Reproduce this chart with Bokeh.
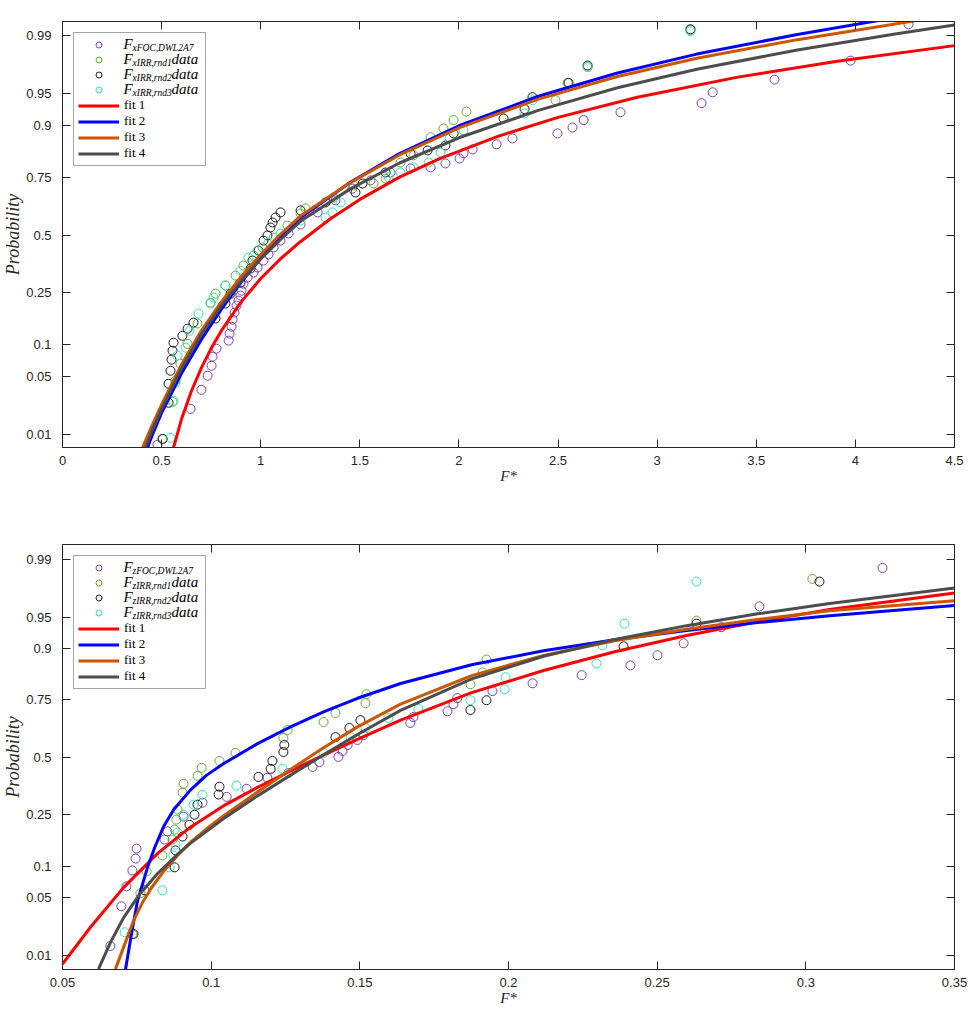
from statistics import NormalDist
from bokeh.plotting import figure
from bokeh.layouts import column
from bokeh.models import Range1d, FixedTicker, LinearAxis, Legend, LegendItem, Label
from bokeh.core.properties import value
from bokeh.embed import file_html
from bokeh.resources import INLINE

# ---------------- data ----------------
prob_ticks = [0.01, 0.05, 0.1, 0.25, 0.5, 0.75, 0.9, 0.95, 0.99]
prob_tick_labels = ["0.01", "0.05", "0.1", "0.25", "0.5", "0.75", "0.9", "0.95", "0.99"]

top_x_ticks = [0, 0.5, 1, 1.5, 2, 2.5, 3, 3.5, 4, 4.5]
top_x_tick_labels = ["0", "0.5", "1", "1.5", "2", "2.5", "3", "3.5", "4", "4.5"]
bot_x_ticks = [0.05, 0.1, 0.15, 0.2, 0.25, 0.3, 0.35]
bot_x_tick_labels = ["0.05", "0.1", "0.15", "0.2", "0.25", "0.3", "0.35"]

top_subscripts = ["xFOC,DWL2A7", "xIRR,rnd1", "xIRR,rnd2", "xIRR,rnd3"]
bot_subscripts = ["zFOC,DWL2A7", "zIRR,rnd1", "zIRR,rnd2", "zIRR,rnd3"]
tails = ["", "data", "data", "data"]
fit_names = ["fit 1", "fit 2", "fit 3", "fit 4"]

# top panel data (F*, probability)
top_foc_x = [0.479, 0.646, 0.701, 0.732, 0.752, 0.757, 0.777, 0.838, 0.843, 0.853, 0.858, 0.868,
             0.878, 0.888, 0.898, 0.903, 0.913, 0.933, 0.964, 0.984, 1.014, 1.039, 1.065, 1.100,
             1.140, 1.201, 1.287, 1.377, 1.463, 1.554, 1.655, 1.756, 1.857, 1.932, 2.003, 2.023,
             2.069, 2.190, 2.270, 2.497, 2.573, 2.629, 2.815, 3.224, 3.280, 3.592, 3.976, 4.268]
top_foc_p = [0.0072, 0.0213, 0.0355, 0.0504, 0.0636, 0.078, 0.0925, 0.109, 0.125, 0.1425, 0.162, 0.183,
             0.205, 0.222, 0.240, 0.258, 0.285, 0.310, 0.331, 0.352, 0.383, 0.410, 0.442, 0.474,
             0.507, 0.549, 0.604, 0.657, 0.706, 0.738, 0.767, 0.781, 0.785, 0.798, 0.814, 0.830,
             0.841, 0.855, 0.870, 0.882, 0.895, 0.910, 0.924, 0.938, 0.952, 0.965, 0.979, 0.993]

top_rnd1_x = [0.505, 0.555, 0.570, 0.595, 0.631, 0.681, 0.747, 0.772, 0.822, 0.873, 0.913, 0.964,
              1.009, 1.065, 1.135, 1.201, 1.226, 1.367, 1.468, 1.569, 1.630, 1.705, 1.771, 1.857,
              1.922, 1.973, 2.038, 2.487, 2.548, 2.649, 3.168]
top_rnd1_p = [0.0087, 0.0259, 0.0446, 0.0667, 0.102, 0.151, 0.215, 0.247, 0.278, 0.318, 0.361, 0.405,
              0.442, 0.488, 0.544, 0.599, 0.622, 0.669, 0.718, 0.726, 0.745, 0.801, 0.824, 0.873,
              0.893, 0.910, 0.925, 0.942, 0.962, 0.975, 0.9916]

top_rnd2_x = [0.505, 0.535, 0.535, 0.545, 0.550, 0.555, 0.560, 0.605, 0.631, 0.661, 0.772, 0.822,
              0.848, 0.898, 0.949, 0.959, 0.989, 1.014, 1.034, 1.049, 1.060, 1.075, 1.100, 1.201,
              1.327, 1.478, 1.514, 1.630, 1.756, 1.842, 1.932, 1.973, 2.225, 2.331, 2.371, 2.553,
              2.649, 3.168]
top_rnd2_p = [0.0087, 0.0252, 0.0414, 0.0567, 0.073, 0.0887, 0.1046, 0.120, 0.1374, 0.1534, 0.165, 0.212,
              0.247, 0.289, 0.348, 0.383, 0.428, 0.474, 0.498, 0.535, 0.558, 0.581, 0.604, 0.613,
              0.648, 0.690, 0.726, 0.767, 0.829, 0.838, 0.852, 0.882, 0.913, 0.929, 0.946, 0.962,
              0.976, 0.9918]

top_rnd3_x = [0.545, 0.560, 0.570, 0.580, 0.621, 0.641, 0.686, 0.747, 0.762, 0.822, 0.898, 0.938,
              0.984, 1.039, 1.100, 1.201, 1.327, 1.362, 1.403, 1.645, 1.705, 1.771, 1.847, 1.907,
              1.953, 2.023, 2.331, 2.371, 2.649, 3.168]
top_rnd3_p = [0.009, 0.0266, 0.0424, 0.0796, 0.0944, 0.132, 0.180, 0.212, 0.233, 0.278, 0.339, 0.396,
              0.428, 0.465, 0.507, 0.567, 0.581, 0.604, 0.648, 0.749, 0.767, 0.785, 0.801, 0.832,
              0.870, 0.889, 0.922, 0.942, 0.975, 0.9913]

top_fit1_x = [0.56, 0.60, 0.65, 0.70, 0.75, 0.80, 0.90, 1.00, 1.10, 1.20, 1.35, 1.50, 1.70, 1.90,
              2.20, 2.50, 2.90, 3.40, 3.90, 4.50]
top_fit1_p = [0.00657, 0.0158, 0.0342, 0.0603, 0.0931, 0.131, 0.217, 0.306, 0.391, 0.469, 0.574,
              0.661, 0.750, 0.813, 0.8756, 0.915, 0.946, 0.967, 0.9785, 0.9864]
top_fit2_x = [0.429, 0.45, 0.50, 0.60, 0.70, 0.80, 0.90, 1.00, 1.10, 1.20, 1.45, 1.70, 2.00,
              2.40, 2.80, 3.20, 3.70, 4.13]
top_fit2_p = [0.00657, 0.00939, 0.019, 0.0532, 0.1112, 0.192, 0.2895, 0.394, 0.494, 0.5793, 0.7299,
              0.8289, 0.8987, 0.9472, 0.9706, 0.98257, 0.99023, 0.99391]
top_fit3_x = [0.404, 0.45, 0.50, 0.60, 0.70, 0.80, 0.90, 1.00, 1.10, 1.20, 1.45, 1.70, 2.00,
              2.40, 2.80, 3.20, 3.70, 4.30]
top_fit3_p = [0.00657, 0.0128, 0.024, 0.0653, 0.132, 0.217, 0.312, 0.41, 0.5036, 0.5875, 0.7286,
              0.8247, 0.8941, 0.9435, 0.9677, 0.98033, 0.98856, 0.99375]
top_fit4_x = [0.419, 0.45, 0.50, 0.60, 0.70, 0.80, 0.90, 1.00, 1.10, 1.20, 1.45, 1.70, 2.00,
              2.40, 2.80, 3.20, 3.70, 4.20, 4.50]
top_fit4_p = [0.00657, 0.011, 0.0212, 0.0594, 0.123, 0.2033, 0.2946, 0.3897, 0.480, 0.5636, 0.7037,
              0.7995, 0.8716, 0.927, 0.9571, 0.97344, 0.98438, 0.99046, 0.99284]

# bottom panel data (F*, probability)
bot_foc_x = [0.0661, 0.0698, 0.0715, 0.0735, 0.0746, 0.0749, 0.0843, 0.0853, 0.0907, 0.0971, 0.1052,
             0.1119, 0.1189, 0.1260, 0.1341, 0.1364, 0.1428, 0.1442, 0.1459, 0.1492, 0.1512, 0.1670,
             0.1680, 0.1795, 0.1815, 0.1828, 0.1946, 0.2081, 0.2246, 0.2410, 0.2501, 0.2589, 0.2716,
             0.2844, 0.3258]
bot_foc_p = [0.0133, 0.040, 0.0646, 0.0918, 0.117, 0.1416, 0.1668, 0.192, 0.243, 0.297, 0.321,
             0.356, 0.405, 0.427, 0.455, 0.478, 0.502, 0.530, 0.558, 0.581, 0.603, 0.657,
             0.682, 0.706, 0.734, 0.757, 0.782, 0.808, 0.833, 0.860, 0.885, 0.910, 0.937,
             0.962, 0.987]

bot_rnd1_x = [0.0735, 0.0762, 0.0783, 0.0836, 0.0870, 0.0877, 0.0883, 0.0887, 0.0904, 0.0907, 0.0954,
              0.0968, 0.1028, 0.1082, 0.1243, 0.1257, 0.1378, 0.1418, 0.1519, 0.1522, 0.1872, 0.1913,
              0.1926, 0.2632, 0.3022]
bot_rnd1_p = [0.0189, 0.055, 0.090, 0.1245, 0.167, 0.198, 0.232, 0.270, 0.339, 0.378, 0.414,
              0.451, 0.483, 0.521, 0.590, 0.626, 0.661, 0.699, 0.738, 0.771, 0.805, 0.841,
              0.875, 0.946, 0.982]

bot_rnd2_x = [0.0739, 0.0776, 0.0877, 0.0880, 0.0904, 0.0927, 0.0944, 0.0954, 0.1025, 0.1028, 0.1159,
              0.1200, 0.1206, 0.1243, 0.1246, 0.1418, 0.1465, 0.1502, 0.1872, 0.1926, 0.2387, 0.2632,
              0.3046]
bot_rnd2_p = [0.0189, 0.059, 0.098, 0.137, 0.176, 0.214, 0.250, 0.289, 0.331, 0.365, 0.409,
              0.446, 0.483, 0.525, 0.558, 0.594, 0.635, 0.669, 0.711, 0.749, 0.904, 0.942,
              0.9806]

bot_rnd3_x = [0.0709, 0.0836, 0.0860, 0.0873, 0.0880, 0.0887, 0.0907, 0.0941, 0.0971, 0.1085, 0.1240,
              0.1378, 0.1469, 0.1519, 0.1596, 0.1697, 0.1872, 0.1987, 0.1990, 0.2296, 0.2316, 0.2390,
              0.2632]
bot_rnd3_p = [0.0199, 0.059, 0.098, 0.1245, 0.1525, 0.188, 0.250, 0.289, 0.330, 0.369, 0.446,
              0.521, 0.594, 0.635, 0.678, 0.715, 0.749, 0.788, 0.827, 0.865, 0.906, 0.942,
              0.9806]

bot_fit1_x = [0.0500, 0.0594, 0.0705, 0.0820, 0.0930, 0.1041, 0.1156, 0.1267, 0.1378, 0.1492, 0.1637,
              0.1876, 0.2118, 0.2357, 0.2599, 0.2838, 0.3080, 0.3500]
bot_fit1_p = [0.00755, 0.0229, 0.0628, 0.1295, 0.2058, 0.284, 0.362, 0.4368, 0.5108, 0.584, 0.669,
              0.7764, 0.8464, 0.8927, 0.9239, 0.9446, 0.9589, 0.9733]
bot_fit2_x = [0.0712, 0.0732, 0.0752, 0.0786, 0.0810, 0.0840, 0.0875, 0.0930, 0.0985, 0.1041, 0.1156,
              0.1267, 0.1378, 0.1492, 0.1637, 0.1876, 0.2118, 0.2357, 0.2599, 0.2838, 0.3080, 0.3500]
bot_fit2_p = [0.00639, 0.01886, 0.0454, 0.098, 0.1446, 0.2081, 0.2709, 0.350, 0.4172, 0.470, 0.564,
              0.6402, 0.7033, 0.7562, 0.8073, 0.8617, 0.8949, 0.9165, 0.932, 0.9434, 0.9521, 0.9628]
bot_fit3_x = [0.0678, 0.0710, 0.0739, 0.0770, 0.0800, 0.0840, 0.0885, 0.0930, 0.0985, 0.1041, 0.1156,
              0.1267, 0.1378, 0.1492, 0.1637, 0.1876, 0.2118, 0.2357, 0.2599, 0.2838, 0.3080, 0.3500]
bot_fit3_p = [0.00639, 0.01426, 0.0274, 0.0446, 0.063, 0.0901, 0.123, 0.1587, 0.2005, 0.2451, 0.3416,
              0.4435, 0.545, 0.6398, 0.7343, 0.8317, 0.8845, 0.9147, 0.934, 0.9475, 0.9576, 0.9672]
bot_fit4_x = [0.0621, 0.0661, 0.0705, 0.0762, 0.0820, 0.0887, 0.0930, 0.1041, 0.1156, 0.1267, 0.1378,
              0.1492, 0.1637, 0.1876, 0.2118, 0.2357, 0.2599, 0.2838, 0.3080, 0.3500]
bot_fit4_p = [0.00639, 0.0147, 0.0295, 0.0551, 0.0861, 0.1269, 0.1558, 0.2348, 0.3253, 0.4172, 0.512,
              0.606, 0.7095, 0.8217, 0.8826, 0.9171, 0.9392, 0.9542, 0.9647, 0.9767]

# ---------------- style ----------------
AX = "#262626"
C_FOC = "#7E3FC0"
C_RND1 = "#62B030"
C_RND2 = "#1A1A1A"
C_RND3 = "#2FE3B4"
C_FIT = ["#FF0000", "#0000FF", "#CC5500", "#4D4D4D"]
SERIF = "Liberation Serif"
SANS = "Liberation Sans"
FRAME_W, FRAME_H = 892, 426

ND = NormalDist()


def probit(ps):
    return [ND.inv_cdf(v) for v in ps]


def style_axis(ax):
    ax.axis_line_color = AX
    ax.axis_line_width = 1
    ax.major_tick_line_color = AX
    ax.major_tick_in = 8
    ax.major_tick_out = 0
    ax.minor_tick_line_color = None
    ax.major_label_text_font = SANS
    ax.major_label_text_font_size = "13px"
    ax.major_label_text_color = AX


def make_panel(xr, yr, xt, xl, scatters, fits, subs, height, btop, bbot):
    p = figure(width=969, height=height, x_range=Range1d(*xr), y_range=Range1d(*yr),
               output_backend="svg", toolbar_location=None,
               min_border_left=62, min_border_right=15, min_border_top=btop, min_border_bottom=bbot,
               x_axis_label="F*", y_axis_label="Probability")
    p.grid.visible = False
    p.outline_line_color = AX
    p.background_fill_color = "white"
    p.border_fill_color = "white"

    yt = probit(prob_ticks)

    xa = p.xaxis[0]
    style_axis(xa)
    xa.ticker = FixedTicker(ticks=xt)
    xa.major_label_overrides = {t: s for t, s in zip(xt, xl)}
    xa.major_label_standoff = 8
    xa.axis_label_standoff = 0
    xa.axis_label_text_font = SERIF
    xa.axis_label_text_font_style = "italic"
    xa.axis_label_text_font_size = "15px"
    xa.axis_label_text_color = AX

    ya = p.yaxis[0]
    style_axis(ya)
    ya.ticker = FixedTicker(ticks=yt)
    ya.major_label_overrides = {t: s for t, s in zip(yt, prob_tick_labels)}
    ya.major_label_standoff = 11
    ya.axis_label_standoff = 0
    ya.axis_label_text_font = SERIF
    ya.axis_label_text_font_style = "italic"
    ya.axis_label_text_font_size = "18px"
    ya.axis_label_text_color = AX

    top_ax = LinearAxis(ticker=FixedTicker(ticks=xt),
                        major_label_overrides={t: "" for t in xt})
    style_axis(top_ax)
    top_ax.major_label_text_font_size = "1px"
    top_ax.major_label_standoff = 0
    p.add_layout(top_ax, "above")

    right_ax = LinearAxis(ticker=FixedTicker(ticks=yt),
                          major_label_overrides={t: "" for t in yt})
    style_axis(right_ax)
    right_ax.major_label_text_font_size = "1px"
    right_ax.major_label_standoff = 0
    p.add_layout(right_ax, "right")

    items = []
    for (sx, sp, col) in scatters:
        r = p.scatter(sx, probit(sp), marker="circle", size=9, fill_color=None,
                      line_color=col, line_width=1)
        items.append(LegendItem(label=value(" "), renderers=[r]))
    for (fx, fp, col), name in zip(fits, fit_names):
        r = p.line(fx, probit(fp), line_color=col, line_width=3)
        items.append(LegendItem(label=value(name), renderers=[r]))

    # the legend area holds no data, so its background can stay transparent,
    # letting the sub-scripted labels below show through
    leg = Legend(items=items, location="top_left", margin=11, padding=4, spacing=0,
                 glyph_width=41, glyph_height=15, label_height=15, label_width=77,
                 label_standoff=5, label_text_font=SERIF, label_text_font_size="13px",
                 label_text_color="black", border_line_color="#4D4D4D", border_line_width=1,
                 background_fill_alpha=0.0)
    p.add_layout(leg)

    def fx_(px):
        return xr[0] + px / FRAME_W * (xr[1] - xr[0])

    def fy_(py):
        return yr[1] - py / FRAME_H * (yr[1] - yr[0])

    for i, (sub, tail) in enumerate(zip(subs, tails)):
        cy = 22.5 + 15 * i
        common = dict(text_font=SERIF, text_font_style="italic", text_baseline="middle",
                      text_align="left", text_color="black")
        p.add_layout(Label(x=fx_(61), y=fy_(cy), text="F", text_font_size="15px", **common))
        p.add_layout(Label(x=fx_(70), y=fy_(cy + 4), text=sub, text_font_size="9.5px", **common))
        if tail:
            p.add_layout(Label(x=fx_(109), y=fy_(cy), text=tail, text_font_size="15px", **common))
    return p


top_scatters = [(top_foc_x, top_foc_p, C_FOC), (top_rnd1_x, top_rnd1_p, C_RND1),
                (top_rnd2_x, top_rnd2_p, C_RND2), (top_rnd3_x, top_rnd3_p, C_RND3)]
top_fits = [(top_fit1_x, top_fit1_p, C_FIT[0]), (top_fit2_x, top_fit2_p, C_FIT[1]),
            (top_fit3_x, top_fit3_p, C_FIT[2]), (top_fit4_x, top_fit4_p, C_FIT[3])]
bot_scatters = [(bot_foc_x, bot_foc_p, C_FOC), (bot_rnd1_x, bot_rnd1_p, C_RND1),
                (bot_rnd2_x, bot_rnd2_p, C_RND2), (bot_rnd3_x, bot_rnd3_p, C_RND3)]
bot_fits = [(bot_fit1_x, bot_fit1_p, C_FIT[0]), (bot_fit2_x, bot_fit2_p, C_FIT[1]),
            (bot_fit3_x, bot_fit3_p, C_FIT[2]), (bot_fit4_x, bot_fit4_p, C_FIT[3])]

p1 = make_panel((0, 4.5), (-2.478, 2.49), top_x_ticks, top_x_tick_labels,
                top_scatters, top_fits, top_subscripts, 510, 21, 63)
p2 = make_panel((0.05, 0.35), (-2.494, 2.502), bot_x_ticks, bot_x_tick_labels,
                bot_scatters, bot_fits, bot_subscripts, 498, 34, 38)

layout = column(p1, p2, spacing=0)
open("out.html", "w").write(file_html(layout, INLINE))
